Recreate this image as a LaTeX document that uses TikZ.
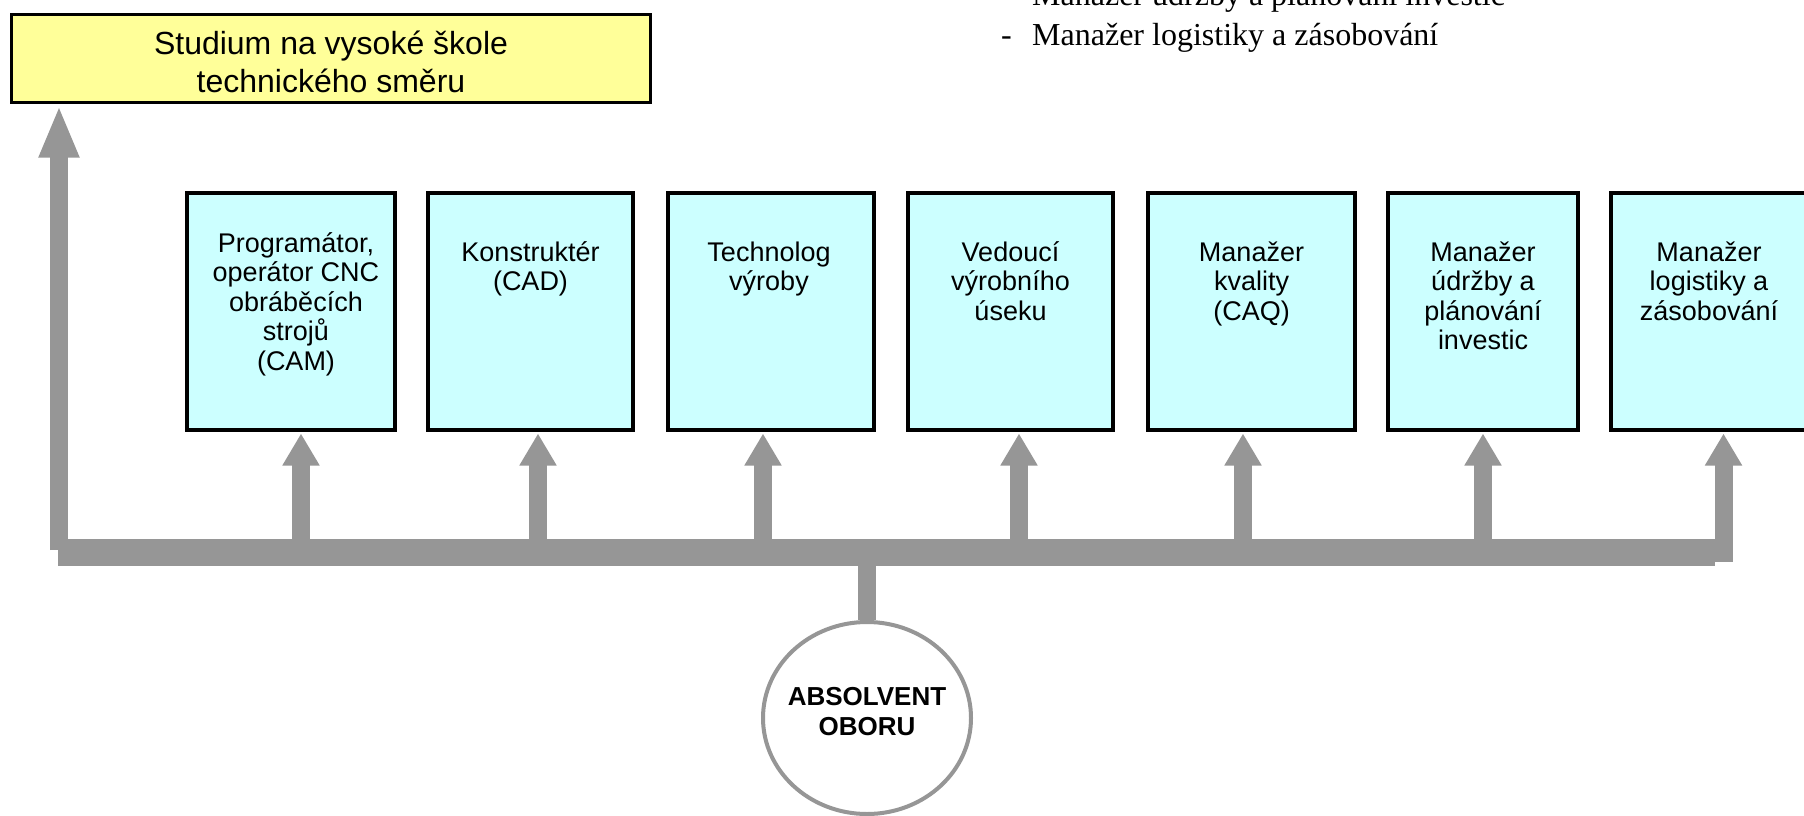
\documentclass[tikz,border=0pt]{standalone}
\usepackage{fontspec}
\setmainfont{Liberation Sans}
\newfontfamily\serifTNR{Liberation Serif}
\usetikzlibrary{arrows.meta,shapes.geometric}
\definecolor{ag}{RGB}{150,150,150}
\definecolor{boxblue}{RGB}{204,255,255}
\definecolor{boxyellow}{RGB}{255,255,153}
\begin{document}
\begin{tikzpicture}[x=1pt,y=-1pt,
  jobbox/.style={draw=black, line width=3.5pt, fill=boxblue, minimum height=237pt, inner sep=0pt, rectangle},
  jobtext/.style={anchor=north, align=center, inner sep=0pt, font=\fontsize{27}{29.5}\selectfont},
  arr/.style={draw=ag, line width=18pt, line cap=butt, -{Triangle[width=35pt,length=32pt]}, shorten >=1.75pt},
  bigarr/.style={draw=ag, line width=18pt, line cap=butt, -{Triangle[width=37pt,length=52pt]}, shorten >=1.5pt},
  barline/.style={draw=ag, line width=27pt, line cap=butt},
  stemline/.style={draw=ag, line width=18pt, line cap=butt},
  listtext/.style={anchor=base west, inner sep=0pt, font=\serifTNR\fontsize{32}{40}\selectfont}
]
\path[use as bounding box, fill=white] (0,0) rectangle (1804,816);

% top-right list text (partly cut off)
\node[listtext] (d1) at (1001,6) {-};
\node[listtext] (l1) at (1032,6) {Manažer údržby a plánování investic};
\node[listtext] (d2) at (1001,46) {-};
\node[listtext] (l2) at (1032,46) {Manažer logistiky a zásobování};

% yellow box
\node[draw=black, line width=3pt, fill=boxyellow, minimum width=639pt, minimum height=88pt, inner sep=0pt] (study) at (331,58.5) {};
\node[anchor=north, align=center, inner sep=0pt, font=\fontsize{32}{38}\selectfont] (studyt) at (331,28)
  {\rule{0pt}{26pt}Studium na vysoké škole\\technického směru};

% blue boxes
\node[jobbox, minimum width=208pt] (b1) at (291,311.5) {};
\node[jobbox, minimum width=205pt] (b2) at (530.5,311.5) {};
\node[jobbox, minimum width=206pt] (b3) at (771,311.5) {};
\node[jobbox, minimum width=205pt] (b4) at (1010.5,311.5) {};
\node[jobbox, minimum width=207pt] (b5) at (1251.5,311.5) {};
\node[jobbox, minimum width=190pt] (b6) at (1483,311.5) {};
\node[jobbox, minimum width=199pt] (b7) at (1710.5,311.5) {};

\node[jobtext] (t1) at (296,228) {\rule{0pt}{24pt}Programátor,\\operátor CNC\\obráběcích\\strojů\\(CAM)};
\node[jobtext] (t2) at (530.5,237) {\rule{0pt}{24pt}Konstruktér\\(CAD)};
\node[jobtext] (t3) at (769,237) {\rule{0pt}{24pt}Technolog\\výroby};
\node[jobtext] (t4) at (1010.5,237) {\rule{0pt}{24pt}Vedoucí\\výrobního\\úseku};
\node[jobtext] (t5) at (1251.5,237) {\rule{0pt}{24pt}Manažer\\kvality\\(CAQ)};
\node[jobtext] (t6) at (1483,237) {\rule{0pt}{24pt}Manažer\\údržby a\\plánování\\investic};
\node[jobtext] (t7) at (1709,237) {\rule{0pt}{24pt}Manažer\\logistiky a\\zásobování};

% graduate ellipse
\node[ellipse, draw=ag, line width=4pt, fill=white, minimum width=208pt, minimum height=192pt, inner sep=0pt] (grad) at (867,718) {};
\node[anchor=north, align=center, inner sep=0pt, font=\bfseries\fontsize{26}{30}\selectfont] (gradt) at (867,681)
  {\rule{0pt}{24pt}ABSOLVENT\\OBORU};

% connector coordinates
\coordinate (lft) at (59,550);
\coordinate (barL) at (58,552.5);
\coordinate (barR) at (1715,552.5);
\coordinate (drop) at (867,552.5);
\coordinate (a1) at (301,552.5);
\coordinate (a2) at (538,552.5);
\coordinate (a3) at (763,552.5);
\coordinate (a4) at (1019,552.5);
\coordinate (a5) at (1243,552.5);
\coordinate (a6) at (1483,552.5);
\coordinate (a7) at (1723.5,562);

% connectors
\draw[bigarr] (lft) -- (lft |- study.south);
\draw[barline] (barL) -- (barR);
\draw[stemline] (drop) -- (grad.north);
\draw[arr] (a1) -- (a1 |- b1.south);
\draw[arr] (a2) -- (a2 |- b2.south);
\draw[arr] (a3) -- (a3 |- b3.south);
\draw[arr] (a4) -- (a4 |- b4.south);
\draw[arr] (a5) -- (a5 |- b5.south);
\draw[arr] (a6) -- (a6 |- b6.south);
\draw[arr] (a7) -- (a7 |- b7.south);
\end{tikzpicture}
\end{document}
